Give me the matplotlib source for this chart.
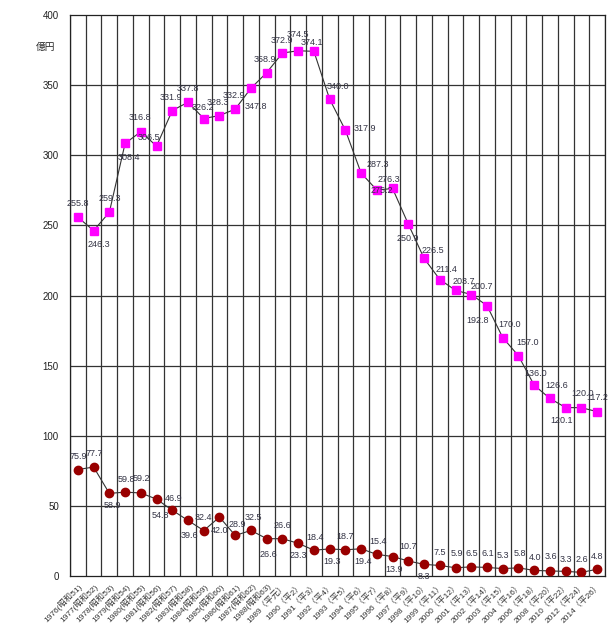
import matplotlib
matplotlib.use("Agg")
import matplotlib.pyplot as plt
import numpy as np

plt.rcParams['font.family'] = ['Liberation Sans', 'Noto Sans CJK JP', 'DejaVu Sans']

# 年度ラベル
years = ["1976(昭和51)", "1977(昭和52)", "1978(昭和53)", "1979(昭和54)", "1980(昭和55)",
         "1981(昭和56)", "1982(昭和57)", "1983(昭和58)", "1984(昭和59)", "1985(昭和60)",
         "1986(昭和61)", "1987(昭和62)", "1988(昭和63)", "1989（平元）", "1990（平2）",
         "1991（平3）", "1992（平4）", "1993（平5）", "1994（平6）", "1995（平7）",
         "1996（平8）", "1997（平9）", "1998（平10）", "1999（平11）", "2000（平12）",
         "2001（平13）", "2002（平14）", "2003（平15）", "2004（平16）", "2006（平18）",
         "2008（平20）", "2010（平22）", "2012（平24）", "2014（平26）"]

# 上の系列 (億円)
upper = [255.8, 246.3, 259.3, 308.4, 316.8, 306.5, 331.9, 337.8, 326.2, 328.3,
         332.9, 347.8, 358.9, 372.9, 374.5, 374.1, 340.0, 317.9, 287.3, 275.2,
         276.3, 250.9, 226.5, 211.4, 203.7, 200.7, 192.8, 170.0, 157.0, 136.0,
         126.6, 120.1, 120.0, 117.2]

# 下の系列 (億円)
lower = [75.9, 77.7, 58.9, 59.8, 59.2, 54.8, 46.9, 39.6, 32.4, 42.0,
         28.9, 32.5, 26.6, 26.6, 23.3, 18.4, 19.3, 18.7, 19.4, 15.4,
         13.9, 10.7, 8.3, 7.5, 5.9, 6.5, 6.1, 5.3, 5.8, 4.0,
         3.6, 3.3, 2.6, 4.8]

# ラベルの位置 (pixel offset)
upper_off = [(0, 14), (5, -14), (0, 14), (4, -14), (-1, 14), (-8, 9), (-1, 13), (0, 14),
             (-1, 11), (-2, 13), (-1, 14), (5, -18), (-2, 13), (-1, 13), (0, 16), (-2, 9),
             (8, 13), (20, 2), (17, 9), (5, 0), (-4, 9), (0, -14), (9, 8), (7, 10),
             (8, 9), (11, 8), (-9, -15), (7, 13), (9, 13), (1, 12), (7, 13), (-4, -13),
             (1, 14), (0, 14)]
lower_off = [(0, 13), (1, 14), (3, -12), (1, 13), (1, 14), (4, -16), (1, 12), (1, -15),
             (0, 13), (0, -13), (2, 11), (2, 13), (2, -16), (0, 13), (0, -12), (1, 13),
             (2, -13), (0, 13), (2, -13), (1, 13), (2, -13), (0, 14), (0, -12), (0, 13),
             (1, 14), (1, 13), (1, 14), (0, 13), (1, 14), (1, 13), (1, 14), (0, 12),
             (0, 13), (0, 13)]

x = np.arange(len(years))

fig = plt.figure(figsize=(6.09, 6.35), dpi=100)
ax = fig.add_axes([70 / 609, 59 / 635, 535 / 609, 561 / 635])

# グリッド
for b in np.arange(len(years) + 1) - 0.5:
    ax.axvline(b, color='#333333', lw=0.9, zorder=1)
for yv in range(50, 400, 50):
    ax.axhline(yv, color='#333333', lw=0.9, zorder=1)

ax.plot(x, upper, color='#333333', lw=0.8, marker='s', markersize=6,
        markerfacecolor='#ff00ff', markeredgecolor='#ff00ff', zorder=3)
ax.plot(x, lower, color='#333333', lw=0.8, marker='o', markersize=6,
        markerfacecolor='#990000', markeredgecolor='#990000', zorder=3)

for xi, v, off in zip(x, upper, upper_off):
    ax.annotate(f"{v:.1f}", (xi, v), xytext=off, textcoords='offset pixels',
                ha='center', va='center', fontsize=6.5, color='#333344', zorder=4)
for xi, v, off in zip(x, lower, lower_off):
    ax.annotate(f"{v:.1f}", (xi, v), xytext=off, textcoords='offset pixels',
                ha='center', va='center', fontsize=6.5, color='#333344', zorder=4)

ax.set_xlim(-0.5, len(years) - 0.5)
ax.set_ylim(0, 400)
ax.set_yticks(range(0, 401, 50))
ax.set_xticks(x)
ax.set_xticklabels(years, rotation=45, ha='right', va='top', rotation_mode='anchor',
                   fontsize=6, color='#333333')
ax.tick_params(axis='both', length=0)
ax.tick_params(axis='y', labelsize=7, pad=8, labelcolor='#222222')
ax.tick_params(axis='x', pad=4)
for s in ax.spines.values():
    s.set_color('#222222')
    s.set_linewidth(0.9)

fig.text(46 / 609, 1 - 47 / 635, "億円", ha='center', va='center', fontsize=7, color='#222222')

fig.savefig("out.png", dpi=100)
